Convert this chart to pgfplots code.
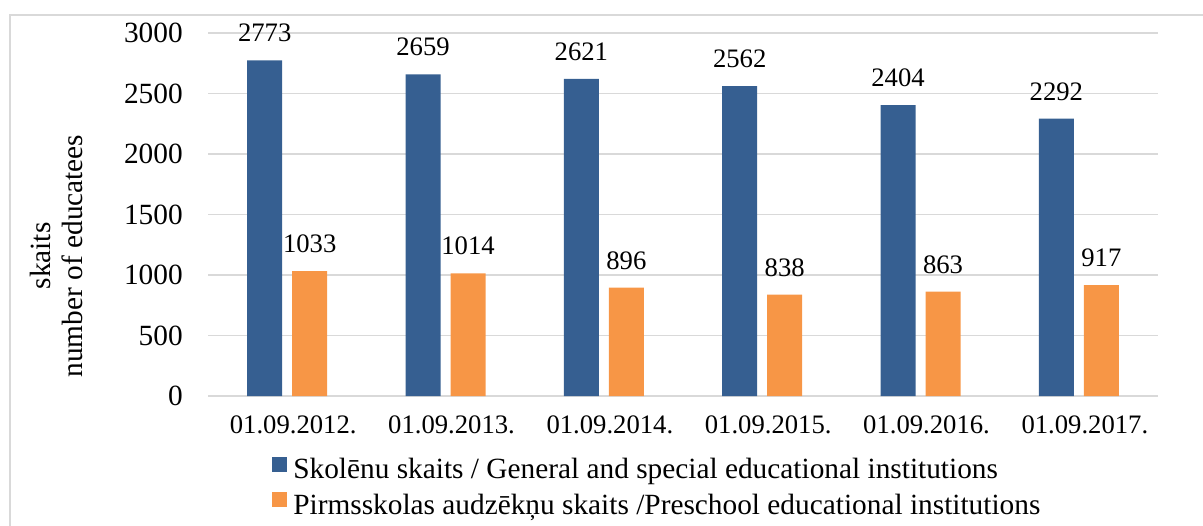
\documentclass[border=0pt]{standalone}
\usepackage{pgfplots}
\pgfplotsset{compat=1.18}
\usepackage{fontspec}
\setmainfont{Liberation Serif}
\definecolor{barblue}{HTML}{365F91}
\definecolor{barorange}{HTML}{F79646}
\definecolor{gridgray}{HTML}{D9D9D9}
\newcommand{\chartfont}{\fontsize{20}{24}\selectfont}
\newcommand{\bigfont}{\fontsize{22}{24}\selectfont}
\begin{document}
\begin{tikzpicture}
\useasboundingbox (0pt,0pt) rectangle (902.25pt,393.75pt);
\draw[gridgray, line width=0.9pt] (7.5pt,-5pt) -- (7.5pt,382.5pt) -- (910pt,382.5pt);
\begin{axis}[
  at={(156pt,96.75pt)}, anchor=south west,
  width=712.5pt, height=272.25pt, scale only axis,
  ybar=7.5pt, bar width=26.25pt,
  xmin=-0.5, xmax=5.5, ymin=0, ymax=3000,
  enlargelimits=false,
  xtick={0,1,2,3,4,5},
  xticklabels={01.09.2012.,01.09.2013.,01.09.2014.,01.09.2015.,01.09.2016.,01.09.2017.},
  ytick={0,500,1000,1500,2000,2500,3000},
  /pgf/number format/assume math mode=true,
  /pgf/number format/set thousands separator={},
  tick label style={inner sep=0pt},
  xticklabel style={font=\chartfont, yshift=-14.25pt, xshift=4.5pt},
  yticklabel style={font=\bigfont, xshift=-18.75pt},
  major tick length=0pt,
  axis line style={draw=none},
  ymajorgrids, major grid style={gridgray, line width=1.1pt},
  nodes near coords,
  every node near coord/.append style={font=\chartfont, inner sep=0pt, yshift=13.5pt, text=black},
  legend style={draw=none, fill=none, inner sep=0pt, at={(axis description cs:0.0674,-0.1667)}, anchor=north west, row sep=5.1pt, column sep=4.5pt,
    nodes={inner sep=0pt, text height=15.4pt, text depth=5pt, font=\bigfont}},
  legend cell align=left,
  legend image code/.code={\fill[#1] (0pt,0pt) rectangle (11.25pt,11.25pt);},
]
\addplot[fill=barblue, draw=none] coordinates {(0,2773) (1,2659) (2,2621) (3,2562) (4,2404) (5,2292)};
\addplot[fill=barorange, draw=none] coordinates {(0,1033) (1,1014) (2,896) (3,838) (4,863) (5,917)};
\legend{Skolēnu skaits / General and special educational institutions, Pirmsskolas audzēkņu skaits /Preschool educational institutions}
\end{axis}
\node[rotate=90, align=center, font=\bigfont, inner sep=0pt] at (42pt,201.75pt) {skaits\\number of educatees};
\end{tikzpicture}
\end{document}
